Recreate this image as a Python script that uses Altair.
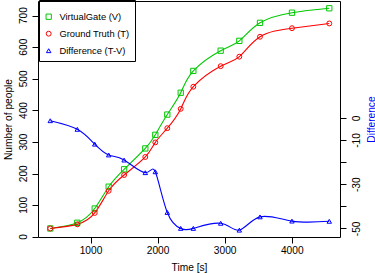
import altair as alt
import pandas as pd

# ---- data ----
time_s = [400, 803, 1063, 1271, 1501, 1817, 1966, 2145, 2345, 2533, 2941, 3219, 3527, 4004, 4560]
virtualgate = [27, 45, 90, 159, 214, 280, 323, 387, 456, 525, 589, 620, 677, 709, 723]
ground_truth = [27, 40, 76, 146, 196, 253, 299, 344, 405, 475, 540, 570, 633, 660, 675]
difference = [-1.3, -5.2, -11.9, -16.8, -19.1, -24.8, -24.4, -42.8, -50, -50, -47.7, -50.8, -44.8, -46.7, -46.8]

series_names = ["VirtualGate (V)", "Ground Truth (T)", "Difference (T-V)"]
series_colors = ["#00C800", "#FF0000", "#0000FF"]
series_shapes = ["square", "circle", "triangle-up"]
series_sizes = [28, 20, 42]

x_ticks = [1000, 2000, 3000, 4000]
left_ticks = [0, 100, 200, 300, 400, 500, 600, 700]
right_ticks = [0, -10, -20, -30, -40, -50]

n = len(time_s)
left_df = pd.DataFrame({
    "time": time_s + time_s,
    "value": virtualgate + ground_truth,
    "series": [series_names[0]] * n + [series_names[1]] * n,
})
right_df = pd.DataFrame({
    "time": time_s,
    "value": difference,
    "series": [series_names[2]] * n,
})
left_label_df = pd.DataFrame({
    "value": left_ticks,
    "label": [str(v) for v in left_ticks],
})

FONT = "Liberation Sans"
FS = 10.2
W, H = 302, 236

color_scale = alt.Scale(domain=series_names, range=series_colors)
shape_scale = alt.Scale(domain=series_names, range=series_shapes)
size_scale = alt.Scale(domain=series_names, range=series_sizes)
left_scale = alt.Scale(domain=[0, 746], nice=False, zero=False)
right_scale = alt.Scale(domain=[-53.9, 52.85], nice=False, zero=False)

legend = alt.Legend(
    title=" ", titleFontSize=7, titlePadding=0,
    orient="none", legendX=1, legendY=-1,
    padding=5, strokeColor="black", rowPadding=6, labelOffset=6,
    labelFont=FONT, labelFontSize=9.4, labelColor="black",
    symbolSize=25, symbolStrokeWidth=1, symbolFillColor="transparent",
)

x_enc = alt.X(
    "time:Q",
    scale=alt.Scale(domain=[217, 4720], nice=False, zero=False),
    axis=alt.Axis(values=x_ticks, format="d", title="Time [s]", tickSize=6,
                  labelPadding=2, titleX=W / 2, titleY=33, titleAlign="center",
                  titleBaseline="alphabetic"),
)

y_left_axis = alt.Y(
    "value:Q", scale=left_scale,
    axis=alt.Axis(values=left_ticks, title="Number of people", orient="left",
                  tickSize=6, labels=False,
                  titleAngle=270, titleX=-30, titleY=H / 2,
                  titleAlign="center", titleBaseline="middle"),
)
y_left_plain = alt.Y("value:Q", scale=left_scale, axis=None)

y_right_axis = alt.Y(
    "value:Q", scale=right_scale,
    axis=alt.Axis(values=right_ticks, title="Difference", orient="right",
                  tickSize=6, labelAngle=-90, labelAlign="center", labelBaseline="top",
                  labelPadding=5,
                  labelExpr="datum.value == -20 || datum.value == -40 ? '' : '' + datum.value",
                  titleColor="#0000FF", titleAngle=270, titleX=31, titleY=H / 2,
                  titleAlign="center", titleBaseline="middle"),
)
y_right_plain = alt.Y("value:Q", scale=right_scale, axis=None)

color_enc = alt.Color("series:N", scale=color_scale, legend=legend)
shape_enc = alt.Shape("series:N", scale=shape_scale, legend=legend)
size_enc = alt.Size("series:N", scale=size_scale, legend=None)

left_lines = alt.Chart(left_df).mark_line(interpolate="natural", strokeWidth=1.1).encode(
    x=x_enc, y=y_left_axis, color=color_enc, detail="series:N",
)
left_points = alt.Chart(left_df).mark_point(filled=False, strokeWidth=1, opacity=1).encode(
    x=x_enc, y=y_left_plain, color=color_enc, shape=shape_enc, size=size_enc,
)
# vertical tick labels of the left axis (read bottom-to-top, as in the reference)
left_labels = alt.Chart(left_label_df).mark_text(
    angle=270, align="center", baseline="middle", font=FONT, fontSize=FS, color="black",
).encode(
    x=alt.value(-14), y=y_left_plain, text="label:N",
)
right_lines = alt.Chart(right_df).mark_line(interpolate="natural", strokeWidth=1.1).encode(
    x=x_enc, y=y_right_axis, color=color_enc,
)
right_points = alt.Chart(right_df).mark_point(filled=False, strokeWidth=1, opacity=1).encode(
    x=x_enc, y=y_right_plain, color=color_enc, shape=shape_enc, size=size_enc,
)

chart = alt.layer(
    left_lines, left_points, left_labels, right_lines, right_points
).resolve_scale(y="independent").properties(
    width=W, height=H,
    autosize=alt.AutoSizeParams(type="none"),
    padding={"left": 38, "top": 1, "right": 35, "bottom": 36},
).configure_view(
    stroke="black", strokeWidth=1
).configure_axis(
    domain=False, grid=False, tickColor="black", tickWidth=1,
    labelFont=FONT, labelFontSize=FS, labelColor="black",
    titleFont=FONT, titleFontSize=FS, titleFontWeight="normal", titleColor="black",
)

chart.save("out.html", embed_options={"renderer": "svg", "actions": False})
